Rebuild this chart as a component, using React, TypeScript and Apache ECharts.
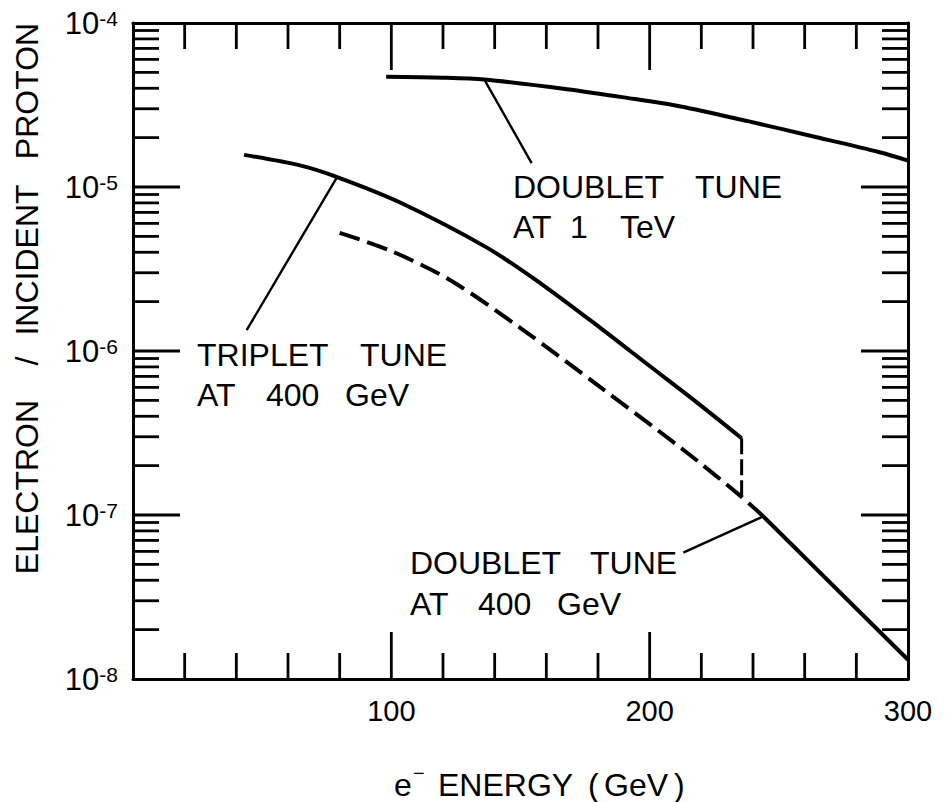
import React, { useEffect, useRef } from "react";
import * as echarts from "echarts";

// ---- data (E in GeV, electrons per incident proton) ----
const doublet1TeV: [number, number][] = [
  [98, 4.7e-5], [120, 4.64e-5], [136, 4.52e-5], [168, 3.95e-5], [190, 3.52e-5],
  [212, 3.1e-5], [238, 2.52e-5], [263, 2.04e-5], [289, 1.63e-5], [300, 1.45e-5],
];
const triplet400: [number, number][] = [
  [43, 1.57e-5], [65, 1.35e-5], [79, 1.15e-5], [103, 8.1e-6], [137, 4.27e-6],
  [158, 2.57e-6], [181, 1.38e-6], [200, 8.1e-7], [218, 4.9e-7], [235.6, 2.94e-7],
];
const doublet400Dashed: [number, number][] = [
  [80, 5.25e-6], [100, 4.07e-6], [123, 2.69e-6], [150, 1.38e-6], [181, 6.0e-7],
  [213, 2.5e-7], [235.6, 1.29e-7], [244, 9.8e-8],
];
const doublet400Solid: [number, number][] = [[244, 9.8e-8], [300, 1.31e-8]];
const tripletDrop: [number, number][] = [[235.6, 2.94e-7], [235.6, 1.29e-7]];

const leaderDoublet1TeV: [number, number][] = [[136, 4.52e-5], [154.3, 1.4e-5]];
const leaderTriplet: [number, number][] = [[79, 1.15e-5], [44, 1.34e-6]];
const leaderDoublet400: [number, number][] = [[244, 9.8e-8], [213, 5.9e-8]];

// ---- ticks ----
const xMinorTicks = [20, 40, 60, 80, 120, 140, 160, 180, 220, 240, 260, 280];
const xMajorTicks = [100, 200];
const yDecades = [1e-8, 1e-7, 1e-6, 1e-5];
const yMinorMantissas = [2, 3, 4, 5, 6, 7, 8, 9];
const yMajorTicks = [1e-7, 1e-6, 1e-5];

// ---- texts ----
const yTitleWords = ["ELECTRON", "/", "INCIDENT", "PROTON"];
const xTitleWords = ["e", "\u2212", "ENERGY", "(", "GeV", ")"];
const annDoublet1TeV = [["DOUBLET", "TUNE"], ["AT", "1", "TeV"]];
const annTriplet400 = [["TRIPLET", "TUNE"], ["AT", "400", "GeV"]];
const annDoublet400 = [["DOUBLET", "TUNE"], ["AT", "400", "GeV"]];

const FONT = "'Liberation Sans', Arial, sans-serif";

export default function App() {
  const ref = useRef<HTMLDivElement>(null);
  useEffect(() => {
    const chart = echarts.init(ref.current!, undefined, { renderer: "svg" });
    const MINOR = 26;
    const MAJOR = 47;
    const yMinorTicks: number[] = [];
    yDecades.forEach((d) => yMinorMantissas.forEach((m) => yMinorTicks.push(d * m)));

    const tickStyle = { stroke: "#000", lineWidth: 2.8 };
    const xTickSeries = (ticks: number[], len: number) => ({
      type: "custom",
      coordinateSystem: "cartesian2d",
      silent: true,
      z: 5,
      data: ticks.map((v) => [v, 1e-6]),
      renderItem: (params: any, api: any) => {
        const cs = params.coordSys;
        const px = api.coord([api.value(0), 1e-6])[0];
        const top = cs.y;
        const bottom = cs.y + cs.height;
        return {
          type: "group",
          children: [
            { type: "line", shape: { x1: px, y1: bottom, x2: px, y2: bottom - len }, style: tickStyle },
            { type: "line", shape: { x1: px, y1: top, x2: px, y2: top + len }, style: tickStyle },
          ],
        };
      },
    });
    const yTickSeries = (ticks: number[], len: number) => ({
      type: "custom",
      coordinateSystem: "cartesian2d",
      silent: true,
      z: 5,
      data: ticks.map((v) => [150, v]),
      renderItem: (params: any, api: any) => {
        const cs = params.coordSys;
        const py = api.coord([150, api.value(1)])[1];
        const left = cs.x;
        const right = cs.x + cs.width;
        return {
          type: "group",
          children: [
            { type: "line", shape: { x1: left, y1: py, x2: left + len, y2: py }, style: tickStyle },
            { type: "line", shape: { x1: right, y1: py, x2: right - len, y2: py }, style: tickStyle },
          ],
        };
      },
    });

    const curve = (data: [number, number][], width: number, dashed?: number[], smooth = 0.3) => ({
      type: "line",
      data,
      showSymbol: false,
      symbol: "none",
      smooth,
      silent: true,
      z: 4,
      lineStyle: { color: "#000", width, type: dashed ? dashed : "solid", cap: "butt" },
    });
    const leader = (data: [number, number][]) => ({
      type: "line",
      data,
      showSymbol: false,
      symbol: "none",
      silent: true,
      z: 4,
      lineStyle: { color: "#000", width: 2.4 },
    });

    const txt = (t: string, x: number, y: number, size = 32, center = false) => ({
      type: "text",
      x,
      y,
      silent: true,
      style: {
        text: t,
        fill: "#000",
        fontSize: size,
        fontFamily: FONT,
        align: center ? "center" : "left",
        textAlign: center ? "center" : "left",
        verticalAlign: "middle",
        textVerticalAlign: "middle",
      },
    });
    const rot = (t: string, x: number, y: number) => ({
      ...txt(t, x, y, 32, true),
      rotation: Math.PI / 2,
    });

    const graphics: any[] = [
      // y title
      rot(yTitleWords[0], 27, 487),
      rot(yTitleWords[1], 27, 361),
      rot(yTitleWords[2], 27, 260),
      rot(yTitleWords[3], 27, 91),
      // x title
      txt(xTitleWords[0], 394, 785),
      txt(xTitleWords[1], 413, 773, 20),
      txt(xTitleWords[2], 438, 785),
      txt(xTitleWords[3], 588, 785),
      txt(xTitleWords[4], 604, 785),
      txt(xTitleWords[5], 674, 785),
      // doublet 1 TeV
      txt(annDoublet1TeV[0][0], 513, 187),
      txt(annDoublet1TeV[0][1], 695, 187),
      txt(annDoublet1TeV[1][0], 513, 227),
      txt(annDoublet1TeV[1][1], 570, 227),
      txt(annDoublet1TeV[1][2], 620, 227),
      // triplet 400
      txt(annTriplet400[0][0], 197, 355),
      txt(annTriplet400[0][1], 360, 355),
      txt(annTriplet400[1][0], 197, 395),
      txt(annTriplet400[1][1], 266, 395),
      txt(annTriplet400[1][2], 345, 395),
      // doublet 400
      txt(annDoublet400[0][0], 410, 563),
      txt(annDoublet400[0][1], 590, 563),
      txt(annDoublet400[1][0], 410, 604),
      txt(annDoublet400[1][1], 478, 604),
      txt(annDoublet400[1][2], 557, 604),
    ];

    const axisLine = { show: true, onZero: false, lineStyle: { color: "#000", width: 3 } };
    const option: any = {
      animation: false,
      backgroundColor: "#fff",
      grid: { left: 133, top: 23, right: 40, bottom: 123 },
      xAxis: [
        {
          type: "value",
          min: 0,
          max: 300,
          interval: 100,
          axisLine,
          axisTick: { show: false },
          splitLine: { show: false },
          axisLabel: {
            color: "#000",
            fontSize: 29,
            fontFamily: FONT,
            margin: 17,
            formatter: (v: number) => (v === 0 ? "" : String(v)),
          },
        },
        {
          type: "value",
          position: "top",
          min: 0,
          max: 300,
          interval: 100,
          axisLine,
          axisTick: { show: false },
          splitLine: { show: false },
          axisLabel: { show: false },
        },
      ],
      yAxis: [
        {
          type: "log",
          logBase: 10,
          min: 1e-8,
          max: 1e-4,
          axisLine,
          axisTick: { show: false },
          splitLine: { show: false },
          axisLabel: {
            margin: 15,
            formatter: (v: number) => `{b|10}{s|${Math.round(Math.log10(v))}}`,
            rich: {
              b: { fontSize: 31, fontFamily: FONT, color: "#000", lineHeight: 31 },
              s: { fontSize: 21, fontFamily: FONT, color: "#000", lineHeight: 18, verticalAlign: "top" },
            },
          },
        },
        {
          type: "log",
          logBase: 10,
          position: "right",
          min: 1e-8,
          max: 1e-4,
          axisLine,
          axisTick: { show: false },
          splitLine: { show: false },
          axisLabel: { show: false },
        },
      ],
      series: [
        curve(doublet1TeV, 4),
        curve(triplet400, 4),
        curve(doublet400Dashed, 4, [21, 8]),
        curve(doublet400Solid, 4, undefined, 0),
        curve(tripletDrop, 3, [16, 5], 0),
        leader(leaderDoublet1TeV),
        leader(leaderTriplet),
        leader(leaderDoublet400),
        xTickSeries(xMinorTicks, MINOR),
        xTickSeries(xMajorTicks, MAJOR),
        yTickSeries(yMinorTicks, MINOR),
        yTickSeries(yMajorTicks, MAJOR),
      ],
      graphic: graphics,
    };
    chart.setOption(option);
    return () => chart.dispose();
  }, []);
  return (
    <div
      ref={ref}
      style={{ position: "absolute", left: 0, top: 0, width: 948, height: 802, background: "#fff" }}
    />
  );
}
